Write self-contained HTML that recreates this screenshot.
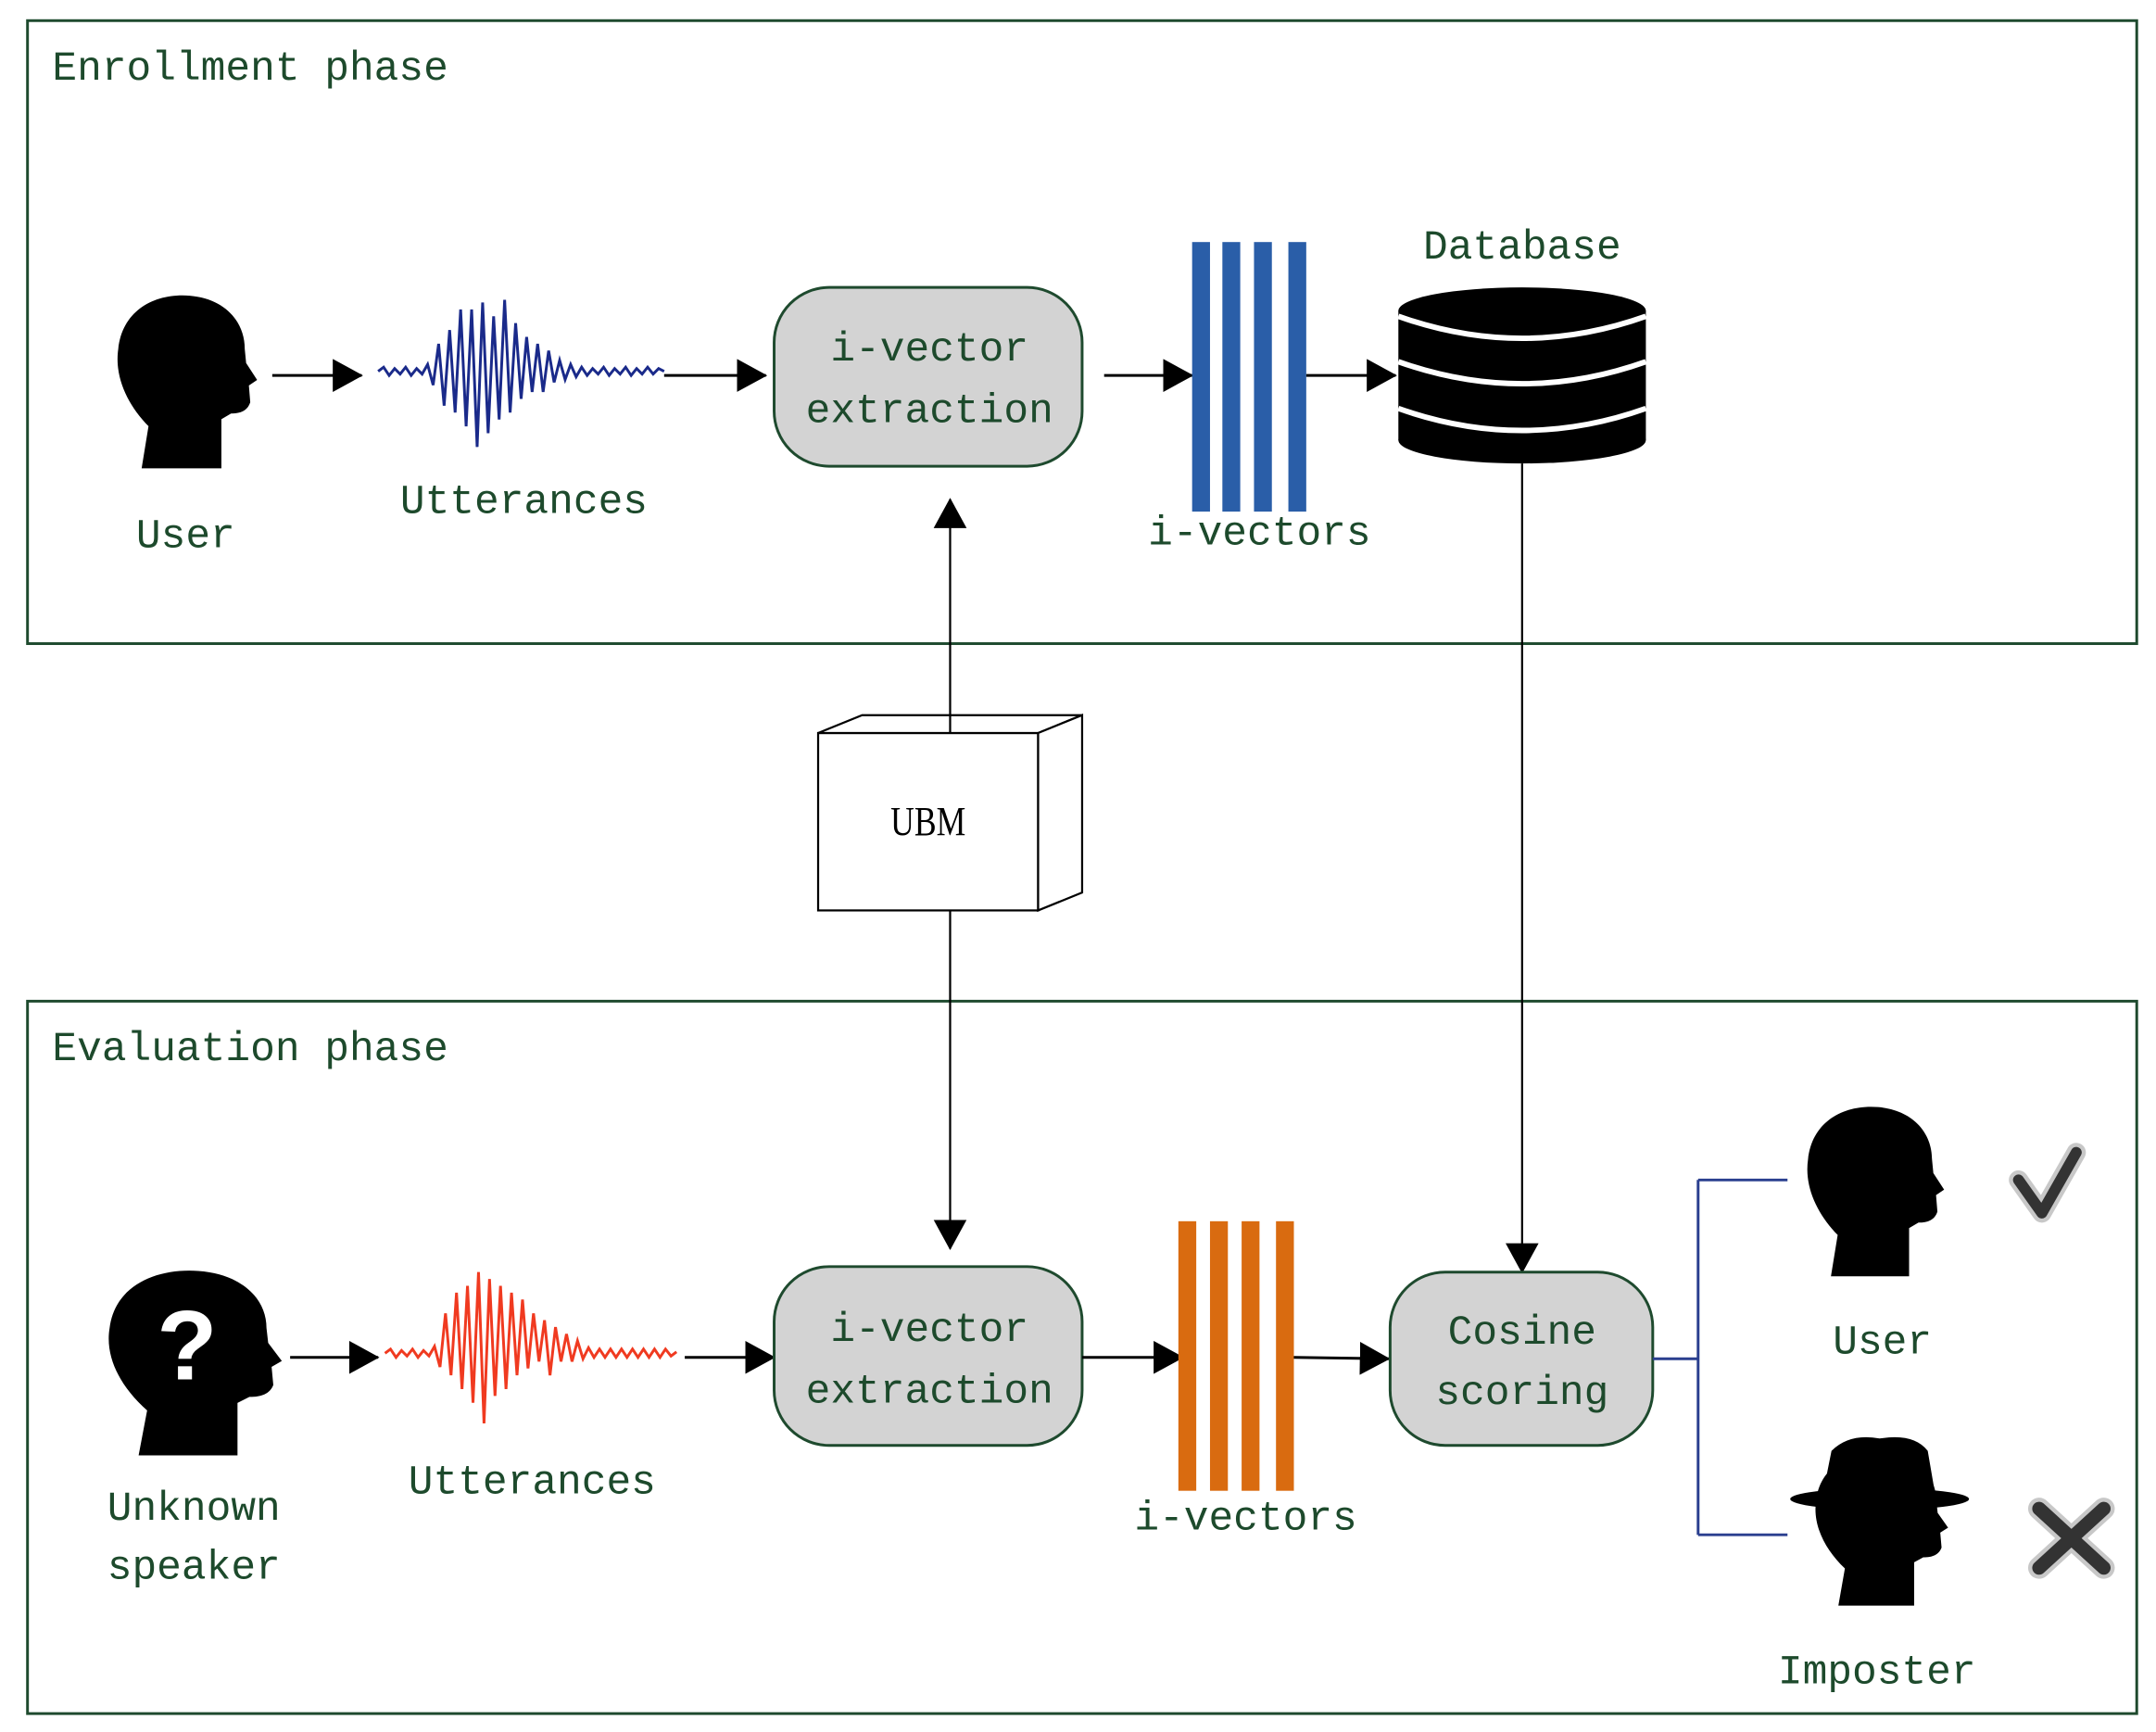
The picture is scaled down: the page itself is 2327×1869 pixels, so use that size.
<!DOCTYPE html>
<html><head><meta charset="utf-8"><style>
html,body{margin:0;padding:0;background:#fff;}
svg{display:block;}
text{font-family:"Liberation Mono",monospace;fill:#1d4a2c;}
</style></head><body>
<svg width="2327" height="1869" viewBox="0 0 1568 1259.4" xmlns="http://www.w3.org/2000/svg">
<defs>
<marker id="ah" markerWidth="12" markerHeight="12" refX="11" refY="6" orient="auto" markerUnits="userSpaceOnUse">
<path d="M0,0 L12,6 L0,12 Z" fill="#000"/></marker>
<marker id="ah2" markerWidth="22" markerHeight="24" refX="21" refY="12" orient="auto" markerUnits="userSpaceOnUse">
<path d="M0,0 L22,12 L0,24 Z" fill="#000"/></marker>
<path id="head" d="M20 125 L25 95 C10 80 0 60 3 40 C6 12 30 0 55 2 C80 4 95 20 95 40 L96 50 L104 62 L98 66 L99 78 C97 84 92 86 85 86 L78 90 L78 125 Z"/>
</defs>
<rect width="1568" height="1260" fill="#fff"/>
<!-- boxes -->
<rect x="20" y="15" width="1534" height="453" fill="none" stroke="#1e4a2e" stroke-width="2"/>
<rect x="20" y="728" width="1534" height="518" fill="none" stroke="#1e4a2e" stroke-width="2"/>
<text x="38" y="58" font-size="30">Enrollment phase</text>
<text x="38" y="771" font-size="30">Evaluation phase</text>

<!-- enrollment -->
<use href="#head" transform="translate(83,213) scale(1.0,1.02)" fill="#000"/>
<text x="135" y="398" font-size="30" text-anchor="middle">User</text>
<line x1="198" y1="273" x2="263" y2="273" stroke="#000" stroke-width="2" marker-end="url(#ah2)"/>
<polyline fill="none" stroke="#1a2a8a" stroke-width="2" points="275,270 279,267 283,273 287,268 291,272 295,267 299,273 303,268 307,272 311,265 315,280 319,250 323,295 327,240 331,300 335,225 339,310 343,225 347,325 351,220 355,315 359,230 363,305 367,218 371,300 375,235 379,290 383,245 387,285 391,250 395,285 399,255 403,278 407,262 411,276 415,265 419,274 423,267 427,273 431,268 435,272 439,267 443,273 447,268 451,272 455,267 459,273 463,268 467,272 471,267 475,272 479,268 483,270"/>
<text x="381" y="373" font-size="30" text-anchor="middle">Utterances</text>
<line x1="483" y1="273" x2="557" y2="273" stroke="#000" stroke-width="2" marker-end="url(#ah2)"/>
<rect x="563" y="209" width="224" height="130" rx="40" fill="#d3d3d3" stroke="#1e4a2e" stroke-width="2"/>
<text x="676" y="262" font-size="30" text-anchor="middle">i-vector</text>
<text x="676" y="307" font-size="30" text-anchor="middle">extraction</text>
<line x1="803" y1="273" x2="867" y2="273" stroke="#000" stroke-width="2" marker-end="url(#ah2)"/>
<g fill="#2a5ea8"><rect x="867" y="176" width="13" height="196"/><rect x="889" y="176" width="13" height="196"/><rect x="912" y="176" width="13" height="196"/><rect x="937" y="176" width="13" height="196"/></g>
<text x="916" y="396" font-size="30" text-anchor="middle">i-vectors</text>
<line x1="950" y1="273" x2="1015" y2="273" stroke="#000" stroke-width="2" marker-end="url(#ah2)"/>
<text x="1107" y="188" font-size="30" text-anchor="middle">Database</text>
<g>
<ellipse cx="1107" cy="226" rx="90" ry="17" fill="#000"/>
<rect x="1017" y="226" width="180" height="94" fill="#000"/>
<ellipse cx="1107" cy="320" rx="90" ry="17" fill="#000"/>
<path d="M1017,230 Q1107,262 1197,230" fill="none" stroke="#fff" stroke-width="4"/>
<path d="M1017,263 Q1107,295 1197,263" fill="none" stroke="#fff" stroke-width="4"/>
<path d="M1017,297 Q1107,329 1197,297" fill="none" stroke="#fff" stroke-width="4"/>
</g>
<line x1="1107" y1="337" x2="1107" y2="925" stroke="#000" stroke-width="1.5" marker-end="url(#ah2)"/>

<!-- UBM -->
<line x1="691" y1="533" x2="691" y2="363" stroke="#000" stroke-width="1.5" marker-end="url(#ah2)"/>
<line x1="691" y1="662" x2="691" y2="908" stroke="#000" stroke-width="1.5" marker-end="url(#ah2)"/>
<rect x="595" y="533" width="160" height="129" fill="#fff" stroke="#000" stroke-width="1.5"/>
<path d="M595,533 L627,520 L787,520 L755,533 Z" fill="#fff" stroke="#000" stroke-width="1.5"/>
<path d="M755,533 L787,520 L787,649 L755,662 Z" fill="#fff" stroke="#000" stroke-width="1.5"/>
<line x1="691" y1="520" x2="691" y2="533" stroke="#000" stroke-width="1.5"/>
<text x="675" y="607" font-size="30" text-anchor="middle" style="font-family:'Liberation Serif',serif;fill:#000" transform="translate(675,0) scale(0.8,1) translate(-675,0)">UBM</text>

<!-- evaluation -->
<use href="#head" transform="translate(76,922) scale(1.24,1.09)" fill="#000"/>
<text x="136" y="1003" font-size="72" font-weight="bold" text-anchor="middle" style="fill:#fff;font-family:'Liberation Sans',sans-serif">?</text>
<text x="141" y="1105" font-size="30" text-anchor="middle">Unknown</text>
<text x="141" y="1148" font-size="30" text-anchor="middle">speaker</text>
<line x1="211" y1="987" x2="275" y2="987" stroke="#000" stroke-width="2" marker-end="url(#ah2)"/>
<polyline fill="none" stroke="#f03a20" stroke-width="2" points="280,984 284,981 288,987 292,982 296,986 300,981 304,987 308,982 312,986 316,979 320,994 324,955 328,1000 332,940 336,1010 340,935 344,1020 348,925 352,1035 356,930 360,1015 364,935 368,1010 372,940 376,1000 380,945 384,995 388,955 392,990 396,960 400,1000 404,965 408,990 412,970 416,990 420,975 424,988 428,980 432,987 436,981 440,987 444,981 448,987 452,981 456,987 460,981 464,987 468,981 472,987 476,981 480,987 484,981 488,986 492,983"/>
<text x="387" y="1086" font-size="30" text-anchor="middle">Utterances</text>
<line x1="498" y1="987" x2="563" y2="987" stroke="#000" stroke-width="2" marker-end="url(#ah2)"/>
<rect x="563" y="921" width="224" height="130" rx="40" fill="#d3d3d3" stroke="#1e4a2e" stroke-width="2"/>
<text x="676" y="975" font-size="30" text-anchor="middle">i-vector</text>
<text x="676" y="1020" font-size="30" text-anchor="middle">extraction</text>
<line x1="787" y1="987" x2="860" y2="987" stroke="#000" stroke-width="2" marker-end="url(#ah2)"/>
<g fill="#d96b10"><rect x="857" y="888" width="13" height="196"/><rect x="880" y="888" width="13" height="196"/><rect x="903" y="888" width="13" height="196"/><rect x="928" y="888" width="13" height="196"/></g>
<text x="906" y="1112" font-size="30" text-anchor="middle">i-vectors</text>
<line x1="941" y1="987" x2="1010" y2="988" stroke="#000" stroke-width="2" marker-end="url(#ah2)"/>
<rect x="1011" y="925" width="191" height="126" rx="40" fill="#d3d3d3" stroke="#1e4a2e" stroke-width="2"/>
<text x="1107" y="977" font-size="30" text-anchor="middle">Cosine</text>
<text x="1107" y="1021" font-size="30" text-anchor="middle">scoring</text>
<path d="M1202,988 L1235,988 M1235,858 L1235,1116 M1235,858 L1300,858 M1235,1116 L1300,1116" fill="none" stroke="#2a3f8f" stroke-width="2"/>

<use href="#head" transform="translate(1312,803) scale(0.98,1.0)" fill="#000"/>
<text x="1369" y="984" font-size="30" text-anchor="middle">User</text>
<path d="M1468,858 L1485,882 L1510,838" fill="none" stroke="#c8c8c8" stroke-width="14" stroke-linecap="round" stroke-linejoin="round"/>
<path d="M1468,858 L1485,882 L1510,838" fill="none" stroke="#333" stroke-width="8" stroke-linecap="round" stroke-linejoin="round"/>

<use href="#head" transform="translate(1318,1055) scale(0.95,0.9)" fill="#000"/>
<ellipse cx="1367" cy="1090" rx="65" ry="8" fill="#000"/>
<path d="M1325,1090 L1332,1055 Q1345,1042 1367,1046 Q1392,1042 1402,1055 L1408,1090 Z" fill="#000"/>
<text x="1365" y="1224" font-size="30" text-anchor="middle">Imposter</text>
<path d="M1483,1097 L1530,1140 M1530,1097 L1483,1140" stroke="#c8c8c8" stroke-width="16" stroke-linecap="round"/>
<path d="M1483,1097 L1530,1140 M1530,1097 L1483,1140" stroke="#333" stroke-width="10" stroke-linecap="round"/>
</svg>
</body></html>
